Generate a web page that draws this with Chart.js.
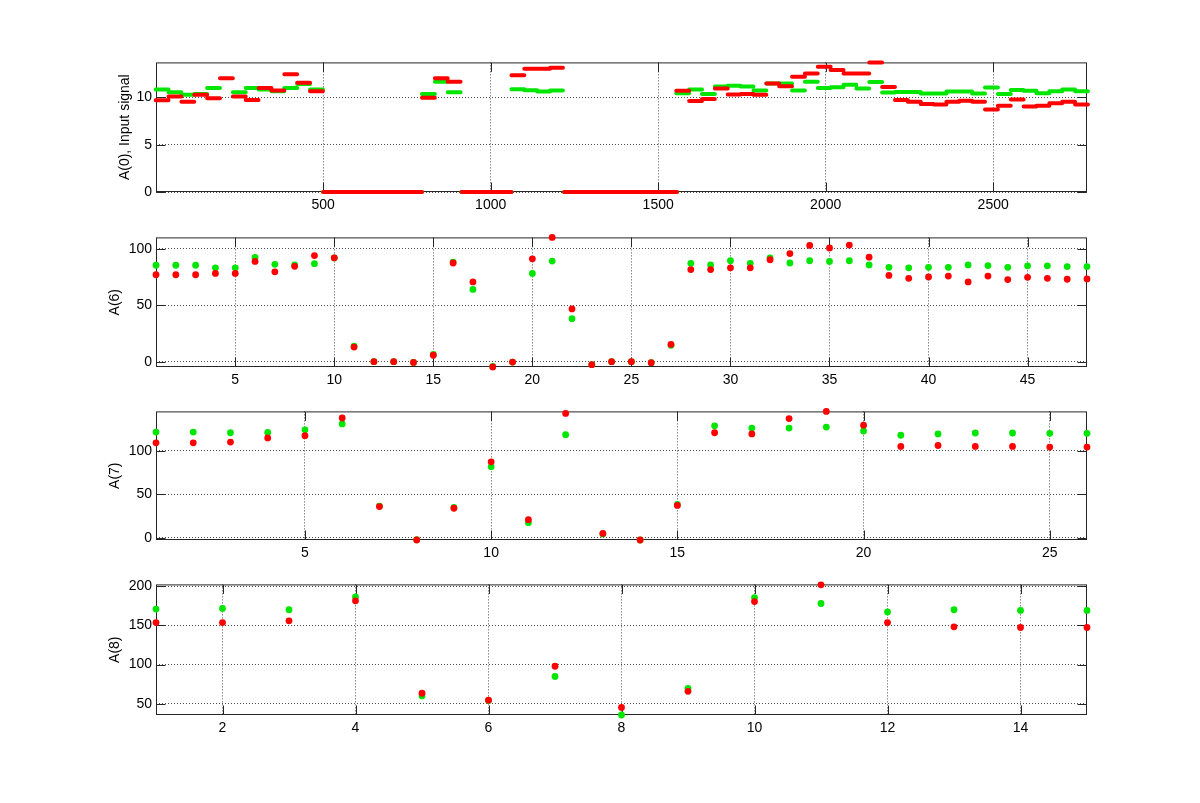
<!DOCTYPE html>
<html>
<head>
<meta charset="utf-8">
<script src="https://cdn.jsdelivr.net/npm/chart.js@4.4.0/dist/chart.umd.min.js"></script>
<style>
  html, body { margin: 0; background: #fff; }
  body { width: 1200px; height: 803px; position: relative; overflow: hidden; }
  canvas { position: absolute; left: 0; }
</style>
</head>
<body>
<canvas id="p0" width="1200"></canvas>
<canvas id="p1" width="1200"></canvas>
<canvas id="p2" width="1200"></canvas>
<canvas id="p3" width="1200"></canvas>
<script>
/* ---- dados ---- */

// painel 1: sinal de entrada em degraus (cada degrau = stepLen amostras)
const stepLen = 38.4;
const blockStart = [0, 795, 1062, 1554];
const redSteps = [
  [9.69, 10.1, 9.55, 10.27, 9.9, 12.03, 10.1, 9.72, 11.0, 10.72, 12.45, 11.55, 10.65],
  [9.96, 12.03, 11.66],
  [12.35, 13.04, 13.04, 13.14],
  [10.69, 9.62, 9.82, 10.93, 10.31, 10.37, 10.27, 11.48, 11.17, 12.18, 12.52, 13.25, 12.9, 12.52, 12.52, 13.7,
   11.1, 9.72, 9.55, 9.31, 9.24, 9.55, 9.65, 9.55, 8.72, 9.13, 9.79, 9.03, 9.13, 9.38, 9.55, 9.24]
];
const greenSteps = [
  [10.83, 10.55, 10.27, 10.37, 11.0, null, 10.55, 11.0, 10.83, 10.65, 11.0, 11.41, 10.83],
  [10.37, 11.66, 10.55],
  [10.86, 10.76, 10.62, 10.72],
  [10.45, 10.83, 10.37, 11.14, 11.24, 11.14, 10.72, 11.48, 11.48, 10.72, 11.66, 11.0, 11.07, 11.35, 10.93, 11.62,
   10.52, 10.58, 10.58, 10.41, 10.41, 10.62, 10.62, 10.41, 11.04, 10.37, 10.79, 10.69, 10.45, 10.65, 10.83, 10.65]
];
const zeroRuns = [[500, 795], [913, 1062], [1219, 1556]];
const xTicks0 = [500, 1000, 1500, 2000, 2500];
const yTicks0 = [0, 5, 10];

// painel 2: A(6)
const redA6 = [77.1, 77.1, 77.1, 78.3, 78.3, 88.9, 79.7, 84.6, 94.1, 92.1, 13.0, 0, 0, -0.6, 5.7, 87.5, 70.7, -4.7,
  -0.3, 91.2, 110.2, 46.8, -2.6, 0, 0, -0.9, 15.3, 81.7, 81.7, 83.2, 83.2, 90.4, 95.9, 103.1, 100.8, 103.4, 92.7,
  76.5, 73.9, 75.1, 75.9, 70.7, 75.9, 72.8, 74.8, 73.9, 73.1, 73.4];
const greenA6 = [85.5, 85.5, 85.5, 83.2, 83.2, 92.4, 86.3, 85.8, 86.9, 92.0, 13.8, 0, 0, -0.6, 6.5, 88.3, 64.1, -4.2,
  -0.3, 78.3, 89.2, 38.1, -2.6, 0, 0, -0.9, 14.6, 87.2, 85.8, 89.5, 87.2, 92.1, 87.5, 89.5, 88.9, 89.5, 85.8,
  83.7, 83.2, 83.7, 83.7, 85.8, 85.2, 83.7, 85.0, 85.0, 84.3, 84.3];
const xTicks6 = [5, 10, 15, 20, 25, 30, 35, 40, 45];
const yTicks6 = [0, 50, 100];

// painel 3: A(7)
const redA7 = [109.4, 109.4, 110.2, 115.0, 117.6, 138.0, 35.9, -2.6, 34.0, 87.5, 20.8, 143.3, 5.0, -2.6, 37.3,
  121.0, 119.6, 137.3, 145.6, 129.7, 105.2, 106.3, 105.2, 105.2, 104.5, 104.5];
const greenA7 = [121.8, 121.8, 121.0, 121.4, 124.4, 131.2, 36.5, -2.2, 35.0, 81.9, 17.4, 118.8, 4.3, -2.6, 38.3,
  129.0, 126.4, 126.4, 127.5, 123.0, 118.1, 119.6, 120.7, 120.7, 120.3, 120.3];
const xTicks7 = [5, 10, 15, 20, 25];
const yTicks7 = [0, 50, 100];

// painel 4: A(8)
const redA8 = [153.7, 153.7, 155.9, 181.5, 63.4, 54.6, 97.9, 45.3, 65.9, 180.6, 202.0, 153.7, 148.3, 147.4, 147.4];
const greenA8 = [171.0, 171.8, 170.1, 186.5, 60.0, 54.0, 84.8, 35.6, 69.7, 185.6, 178.1, 167.2, 170.1, 169.3, 169.3];
const xTicks8 = [2, 4, 6, 8, 10, 12, 14];
const yTicks8 = [50, 100, 150, 200];

/* ---- estilo ---- */
const FONT = "'Liberation Sans', Arial, Helvetica, sans-serif";
const RED = '#ff0000';
const GREEN = '#00e600';
const AXIS = '#262626';

// degraus -> pontos {x,y} com quebras (y null) entre segmentos
function stepPoints(blocks) {
  let segs = [];
  blocks.forEach((vals, b) => {
    vals.forEach((v, i) => {
      if (v === null) return;
      const x0 = blockStart[b] + i * stepLen;
      segs.push([x0, x0 + stepLen, v]);
    });
  });
  zeroRuns.forEach(z => segs.push([z[0], z[1], 0]));
  segs.sort((a, b) => a[0] - b[0]);
  const pts = [];
  segs.forEach(s => {
    pts.push({x: s[0], y: s[2]}, {x: s[1], y: s[2]}, {x: s[1], y: null});
  });
  return pts;
}

function indexPoints(vals) {
  return vals.map((v, i) => ({x: i + 1, y: v}));
}

// caixa + marcas de escala internas (estilo matlab)
const boxPlugin = {
  id: 'box',
  beforeDatasetsDraw(chart) {
    const {ctx, chartArea: a, scales} = chart;
    const L = a.left + 0.5, R = a.right - 0.5, T = a.top + 0.5, B = a.bottom - 0.5;
    const tl = 9;
    ctx.save();
    ctx.strokeStyle = AXIS;
    ctx.lineWidth = 1;
    ctx.beginPath();
    scales.x.ticks.forEach(t => {
      const px = Math.round(scales.x.getPixelForValue(t.value)) + 0.5;
      ctx.moveTo(px, B); ctx.lineTo(px, B - tl);
      ctx.moveTo(px, T); ctx.lineTo(px, T + tl);
    });
    scales.y.ticks.forEach(t => {
      const py = Math.round(scales.y.getPixelForValue(t.value)) + 0.5;
      ctx.moveTo(L, py); ctx.lineTo(L + tl, py);
      ctx.moveTo(R, py); ctx.lineTo(R - tl, py);
    });
    ctx.stroke();
    ctx.strokeRect(L, T, R - L, B - T);
    ctx.restore();
  }
};

function makePanel(id, p) {
  const canvas = document.getElementById(id);
  const padTop = 10, axisH = 30;
  canvas.style.top = (p.top - padTop) + 'px';
  canvas.height = (p.bottom - p.top) + padTop + axisH;

  const tickFont = {family: FONT, size: 14};
  return new Chart(canvas, {
    type: 'scatter',
    data: {datasets: p.datasets},
    options: {
      responsive: false,
      animation: false,
      devicePixelRatio: 1,
      layout: {padding: {left: p.padLeft, right: 113, top: padTop, bottom: 0}},
      plugins: {legend: {display: false}, tooltip: {enabled: false}},
      scales: {
        x: {
          type: 'linear', min: p.xMin, max: p.xMax, bounds: 'data',
          afterBuildTicks: s => { s.ticks = p.xTicks.map(v => ({value: v})); },
          afterFit: s => { s.height = axisH; },
          grid: {color: '#4d4d4d', lineWidth: 1, drawTicks: false},
          border: {display: false, dash: [1, 2]},
          ticks: {font: tickFont, color: '#000', padding: 5, autoSkip: false, maxRotation: 0,
                  callback: v => String(v)}
        },
        y: {
          type: 'linear', min: p.yMin, max: p.yMax, bounds: 'data',
          afterBuildTicks: s => { s.ticks = p.yTicks.map(v => ({value: v})); },
          afterFit: s => { s.width = 156 - p.padLeft; },
          grid: {color: '#4d4d4d', lineWidth: 1, drawTicks: false},
          border: {display: false, dash: [1, 2]},
          ticks: {font: tickFont, color: '#000', padding: 4, autoSkip: false,
                  callback: v => String(v)},
          title: {display: true, text: p.yTitle, font: {family: FONT, size: 14}, color: '#000', padding: 0}
        }
      }
    },
    plugins: [boxPlugin]
  });
}

function lineSet(data, color) {
  return {data: data, showLine: true, borderColor: color, borderWidth: 4, borderCapStyle: 'round',
          pointRadius: 0, spanGaps: false, clip: 4};
}
function dotSet(data, color) {
  return {data: data, backgroundColor: color, borderWidth: 0, pointRadius: 3.4, clip: false};
}

// vermelho primeiro = desenhado por cima
makePanel('p0', {
  top: 60, bottom: 192, padLeft: 117, yTitle: 'A(0), Input signal',
  xMin: 1, xMax: 2780, yMin: 0, yMax: 13.7, xTicks: xTicks0, yTicks: yTicks0,
  datasets: [lineSet(stepPoints(redSteps), RED), lineSet(stepPoints(greenSteps), GREEN)]
});
makePanel('p1', {
  top: 235, bottom: 367, padLeft: 107, yTitle: 'A(6)',
  xMin: 1, xMax: 48, yMin: -4.7, yMax: 110.2, xTicks: xTicks6, yTicks: yTicks6,
  datasets: [dotSet(indexPoints(redA6), RED), dotSet(indexPoints(greenA6), GREEN)]
});
makePanel('p2', {
  top: 409, bottom: 540, padLeft: 107, yTitle: 'A(7)',
  xMin: 1, xMax: 26, yMin: -2.6, yMax: 145.6, xTicks: xTicks7, yTicks: yTicks7,
  datasets: [dotSet(indexPoints(redA7), RED), dotSet(indexPoints(greenA7), GREEN)]
});
makePanel('p3', {
  top: 582, bottom: 715, padLeft: 107, yTitle: 'A(8)',
  xMin: 1, xMax: 15, yMin: 35.6, yMax: 202.5, xTicks: xTicks8, yTicks: yTicks8,
  datasets: [dotSet(indexPoints(redA8), RED), dotSet(indexPoints(greenA8), GREEN)]
});
</script>
</body>
</html>
